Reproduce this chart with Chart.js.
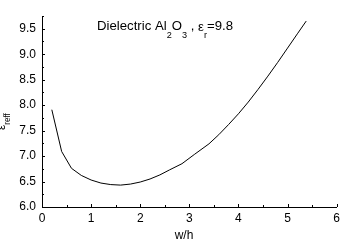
<!DOCTYPE html>
<html>
<head>
<meta charset="utf-8">
<script src="https://cdn.jsdelivr.net/npm/chart.js@4/dist/chart.umd.min.js"></script>
<style>
  html, body { margin: 0; padding: 0; background: #fff; overflow: hidden; }
  #plot { display: block; }
</style>
</head>
<body>
<canvas id="plot" width="344" height="243"></canvas>
<script>
// values
var wh   = [0.2, 0.4, 0.6, 0.8, 1.0, 1.2, 1.4, 1.6, 1.8, 2.0, 2.2, 2.4, 2.6, 2.85, 3.1, 3.4, 3.6, 3.8, 4.0, 4.2, 4.4, 4.6, 4.8, 5.0, 5.2, 5.38];
var eref = [7.91, 7.09, 6.76, 6.62, 6.53, 6.47, 6.44, 6.43, 6.45, 6.49, 6.55, 6.63, 6.73, 6.85, 7.03, 7.24, 7.42, 7.62, 7.83, 8.06, 8.31, 8.57, 8.84, 9.12, 9.40, 9.65];
var xTicks = [0, 1, 2, 3, 4, 5, 6];
var yTicks = [6.0, 6.5, 7.0, 7.5, 8.0, 8.5, 9.0, 9.5];
var xMinor = 0.5, yMinor = 0.25;
var xMin = 0, xMax = 6, yMin = 6, yMax = 9.75;

var titleParts = [
    ["Dielectric Al", "main", 0],
    ["2", "sub", 8],
    ["O", "main", 0],
    ["3", "sub", 8],
    [" , ", "main", 0],
    ["\u03b5", "main", 1],
    ["r", "sub", 8],
    ["=9.8", "main", 0]
];

var FONT = "'Liberation Sans', Arial, sans-serif";

var points = [];
wh.forEach((w, i) => {
    points.push({x: w, y: eref[i]});
});

// ticks pointing into the plot, plus the sub/superscript labels
var decor = {
    id: "decor",
    afterDraw(chart) {
        var ctx = chart.ctx;
        var xs = chart.scales.x, ys = chart.scales.y;
        var a = chart.chartArea;
        ctx.save();
        ctx.strokeStyle = "#000";
        ctx.lineWidth = 1;
        ctx.beginPath();
        for (var v = xMin; v <= xMax + 1e-9; v += xMinor) {
            var px = Math.round(xs.getPixelForValue(v)) + 0.5;
            var len = Math.abs(v - Math.round(v)) < 1e-6 ? 3 : 2;
            ctx.moveTo(px, a.bottom);
            ctx.lineTo(px, a.bottom - len);
        }
        for (var u = yMin; u <= yMax + 1e-9; u += yMinor) {
            var py = Math.round(ys.getPixelForValue(u)) + 0.5;
            var l2 = Math.abs(u * 2 - Math.round(u * 2)) < 1e-6 ? 3 : 2;
            ctx.moveTo(a.left, py);
            ctx.lineTo(a.left + l2, py);
        }
        ctx.stroke();

        ctx.fillStyle = "#000";
        ctx.textBaseline = "alphabetic";
        ctx.textAlign = "left";

        // title
        var fonts = {main: "13px " + FONT, sub: "9px " + FONT};
        var total = 0;
        titleParts.forEach(p => {
            ctx.font = fonts[p[1]];
            total += ctx.measureText(p[0]).width;
        });
        var sx = 136 / total;
        ctx.save();
        ctx.translate(97, 30);
        ctx.scale(sx, 1);
        var cx = 0;
        titleParts.forEach(p => {
            ctx.font = fonts[p[1]];
            ctx.fillText(p[0], cx, p[2]);
            cx += ctx.measureText(p[0]).width;
        });
        ctx.restore();

        // y axis label
        ctx.save();
        ctx.translate(5, 130);
        ctx.rotate(-Math.PI / 2);
        ctx.font = "12px " + FONT;
        ctx.fillText("\u03b5", 0, 0);
        var ew = ctx.measureText("\u03b5").width;
        ctx.font = "9px " + FONT;
        ctx.save();
        ctx.translate(ew, 5);
        ctx.scale(11.5 / ctx.measureText("reff").width, 1);
        ctx.fillText("reff", 0, 0);
        ctx.restore();
        ctx.restore();

        // x axis label
        ctx.font = "12px " + FONT;
        ctx.textAlign = "center";
        ctx.fillText("w/h", 184, 239);
        ctx.restore();
    }
};

var _chart = new Chart(document.getElementById("plot"), {
    type: "line",
    data: {
        datasets: [{
            data: points,
            borderColor: "#000",
            borderWidth: 1,
            pointRadius: 0,
            tension: 0,
            fill: false
        }]
    },
    options: {
        responsive: false,
        animation: false,
        events: [],
        layout: { padding: { top: 16, right: 5, left: 0, bottom: 0 } },
        plugins: { legend: { display: false }, tooltip: { enabled: false }, title: { display: false } },
        scales: {
            x: {
                type: "linear",
                min: xMin, max: xMax,
                grid: { display: false, drawTicks: false },
                border: { display: true, color: "#000", width: 1 },
                afterBuildTicks: (s) => { s.ticks = xTicks.map(v => ({value: v})); },
                afterFit: (s) => { s.height = 36; },
                ticks: {
                    color: "#000",
                    padding: 4,
                    maxRotation: 0,
                    font: { family: FONT, size: 12 },
                    callback: (v) => String(v)
                }
            },
            y: {
                type: "linear",
                min: yMin, max: yMax,
                grid: { display: false, drawTicks: false },
                border: { display: true, color: "#000", width: 1 },
                afterBuildTicks: (s) => { s.ticks = yTicks.map(v => ({value: v})); },
                afterFit: (s) => { s.width = 42; },
                ticks: {
                    color: "#000",
                    padding: 6,
                    font: { family: FONT, size: 12 },
                    callback: (v) => Number(v).toFixed(1)
                }
            }
        }
    },
    plugins: [decor]
});
</script>
</body>
</html>
